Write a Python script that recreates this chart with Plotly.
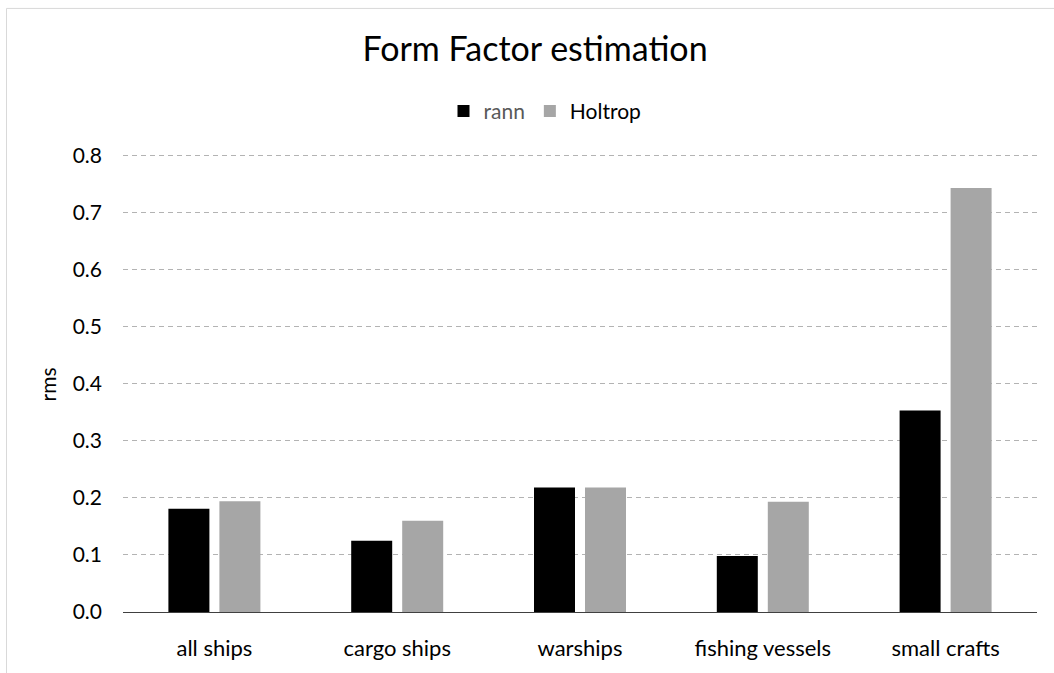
import plotly.graph_objects as go

categories = ["all ships", "cargo ships", "warships", "fishing vessels", "small crafts"]
rann = [0.181, 0.125, 0.218, 0.098, 0.353]
holtrop = [0.194, 0.160, 0.218, 0.193, 0.743]
y_ticks = [0.0, 0.1, 0.2, 0.3, 0.4, 0.5, 0.6, 0.7, 0.8]
y_tick_labels = ["0.0", "0.1", "0.2", "0.3", "0.4", "0.5", "0.6", "0.7", "0.8"]

W, H = 1054, 673
L, R, T, B = 123, 17, 152, 58
pw, ph = W - L - R, H - T - B

def px(x):
    return (x - L) / pw

def py(y):
    return (H - B - y) / ph

FONT = "Lato"
FS = 21

fig = go.Figure()
fig.add_trace(go.Bar(x=categories, y=rann, name="<span style='color:#595959'>rann</span>",
                     marker=dict(color="#000000", line=dict(width=0))))
fig.add_trace(go.Bar(x=categories, y=holtrop, name="Holtrop",
                     marker=dict(color="#A6A6A6", line=dict(width=0))))

fig.update_layout(
    width=W, height=H,
    margin=dict(l=L, r=R, t=T, b=B, pad=0),
    paper_bgcolor="white", plot_bgcolor="white",
    barmode="group", bargap=0.442, bargroupgap=0.196,
    font=dict(family=FONT, size=FS, color="#000000"),
    title=dict(text="Form Factor estimation", x=535 / W, xref="container", xanchor="center",
               y=1 - 49 / H, yref="container", yanchor="middle",
               font=dict(family=FONT, size=34, color="#000000")),
    legend=dict(orientation="h", x=px(545), xanchor="center", y=py(111), yanchor="middle",
                font=dict(family=FONT, size=FS, color="#000000"),
                itemwidth=30, traceorder="normal", bgcolor="rgba(0,0,0,0)"),
    showlegend=True,
    xaxis=dict(showgrid=False, showline=True, linecolor="#404040", linewidth=1.3,
               ticks="", tickfont=dict(family=FONT, size=FS + 1, color="#000000"),
               ticklabelstandoff=16, zeroline=False),
    yaxis=dict(range=[0, 0.806], tickvals=y_ticks, ticktext=y_tick_labels,
               showgrid=True, gridcolor="#B3B3B3", griddash="5px,4px", gridwidth=1,
               zeroline=False, showline=False, ticks="",
               ticklabelstandoff=20,
               tickfont=dict(family=FONT, size=FS, color="#000000")),
    annotations=[dict(text="rms", x=px(47), y=py(386), xref="paper", yref="paper",
                      textangle=-90, showarrow=False, xanchor="center", yanchor="middle",
                      font=dict(family=FONT, size=FS, color="#000000"))],
    shapes=[dict(type="rect", xref="paper", yref="paper",
                 x0=px(6.5), x1=px(1100), y0=py(7.5), y1=py(720),
                 line=dict(color="#D9D9D9", width=1), fillcolor="rgba(0,0,0,0)", layer="below")],
)

fig.write_html("out.html")
